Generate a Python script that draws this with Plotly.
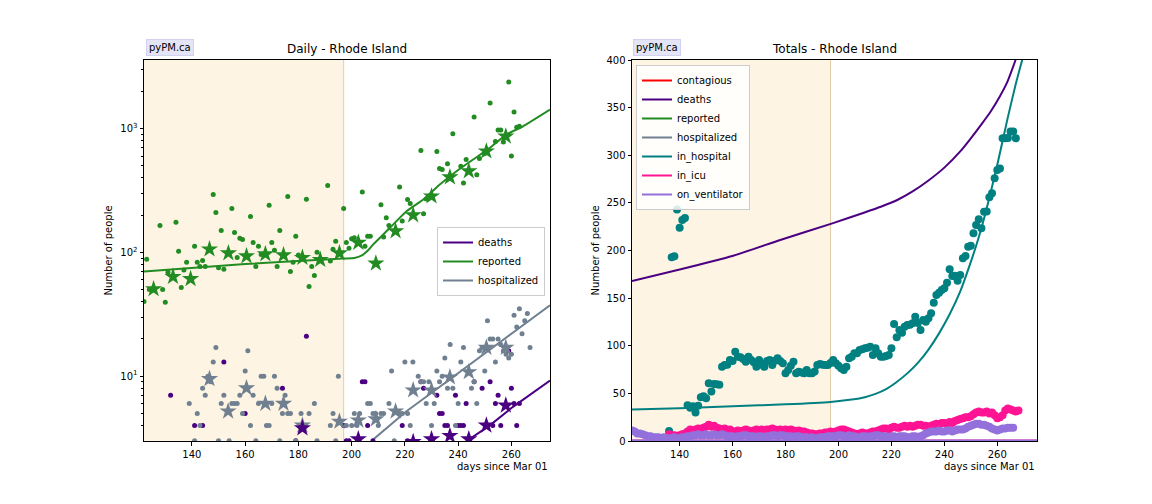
import plotly.graph_objects as go

# ---------------- data: left panel (daily, log) ----------------
rep_days = [122,123,124,128,129,130,131,134,135,136,137,138,141,142,143,144,145,148,149,150,151,152,155,156,157,158,159,
            162,163,164,165,166,169,170,171,172,173,176,177,178,179,180,183,184,185,186,187,191,192,193,194,197,198,199,
            200,201,204,205,206,207,211,212,213,214,218,219,221,222,226,227,228,232,233,234,236,238,241,242,243,246,247,
            248,250,252,254,255,256,257,259,260,261,262,263]
rep_vals = [40,88,50,165,50,39.5,69,175,102,52,72,83,112,83,77,86,77,294,210,75,150,73,226,145,91,130,127,
            195,120,77,112,96,240,120,104,77,150,283,70,83,135,95,268,53,77,65,100,347,85,106,123,226,120,108,
            129,131,308,112,135,135,242,133,190,165,338,179,267,248,664,205,270,652,475,467,519,910,497,364,562,1241,423,
            573,628,1611,785,975,975,780,2377,601,1361,1023,1042]

rep_star_days = [125.6,132.9,139.5,146.6,153.7,160.5,167.6,174.4,181.5,188.2,195.4,202.5,209.1,216.5,223.1,230.0,236.9,244.0,250.6,257.9]
rep_star_vals = [50.6,63.6,61,106,98.7,93.3,96.8,95,90.5,87.2,98.7,120,81.5,148.5,200,284,405,453,656,866]

hosp_days = [139,141,142,143,144,145,146,147,148,149,150,151,152,154,155,156,157,158,159,160,161,162,163,164,165,166,167,
             168,169,170,171,172,173,174,175,176,177,179,181,182,184,186,187,192,193,194,195,198,200,201,202,203,206,207,
             208,209,210,211,212,214,215,216,218,219,220,221,222,223,225,226,227,228,229,230,231,232,233,234,235,236,237,
             238,239,240,241,242,245,246,247,248,249,250,251,252,253,254,255,256,257,258,259,260,261,262,263,264,265,266,267]
hosp_vals = [6,3,5,4,8,7,10,9,13,17,3,6,7,3,6,6,6,7,5,11,16,4,7,3,6,10,10,
             4,4,6,10,8,3,5,7,5,5,3,5,4,5,6,3,4,5,3,10,4,4,5,4,5,6,6,
             5,5,4,5,5,6,11,3,5,5,13,5,4,13,10,9,9,6,9,4,6,11,9,10,14,8,18,
             8,4,6,13,17,8,9,6,16,17,11,28,20,20,13,20,18,16,15,14,15,31,25,35,22,28,32,17]

hosp_star_days = [146.6,153.6,160.5,167.6,174.4,181.5,195.4,202.5,209.1,216.5,223.1,230.0,236.9,244.0,250.6,257.9]
hosp_star_vals = [9.5,5.2,8,6,6,4,4.3,4.4,4.5,5.2,7.7,7.7,9.8,10.8,17,17]

death_days = [132,141,144,152,160,174,179,183,197,198,199,204,205,206,208,219,221,226,227,232,233,234,235,236,239,240,
              241,242,243,246,249,252,253,254,255,256,259,260,261,262,263]
death_vals = [7,4,4,13,5,8,3,21,4,3,3,9,9,4,3,4,3,9,8,7,5,5,4,4,7,4,
              4,4,6,9,8,9,4,6,7,4,16,8,6,4,6]

death_star_days = [181.5,202.5,223.1,230.0,236.9,244.0,250.6,257.9]
death_star_vals = [3.8,3.1,2.95,3.1,3.3,3.1,4.0,5.8]

# model lines (left)
rep_line_days = [122,160,197,201,204,206,208.1,214.4,220.6,226.9,233.1,239.4,245.6,251.9,258.1,264.4,274.5]
rep_line_vals = [70,80.5,89,90,95,103,116,158,215,267,353,452,562,698,894,1043,1421]
hosp_line_days = [207.5,220.6,233.1,245.6,258.1,274.5]
hosp_line_vals = [3.0,5.2,8.2,13,20.7,37.4]
death_line_days = [243.3,251.9,260.6,274.5]
death_line_vals = [3.0,4.0,5.65,9.2]

# ---------------- data: right panel (totals, linear) ----------------
inhosp_days = list(range(136, 268))
inhosp_vals = [10.5,193,194,243,224,232,234,37.5,35,36.5,30,37,46,47,45,60.5,52,59.8,59.5,59,78,79.8,80,85,84,93.8,
               88.5,88,86,83.3,88.5,85,82.6,78,85,80,78,84,85,79.8,84.3,86.8,84,81.5,71,74.5,79,83.3,71,72.8,72,71,
               74.5,71,71,73,79.8,80.8,80,79.8,79.8,82,85,81.5,79,76.3,74.5,78,86.8,88.5,92,92,95.5,96.2,97.3,98,99,
               90.3,97.3,92,88.5,88.5,89.2,90.3,97.3,122.8,109,116.5,113.7,120,121.8,122,123.5,130.5,124,116.5,127,
               125.3,128.8,134,145.2,153.3,155.7,158.5,160.3,166.2,180.2,173.2,173.5,168.3,174.3,191.8,194.2,204,205,
               218,226.8,232.7,223.3,240.8,241,255.8,260,275.8,284.5,286,317.8,317.8,318,325,325,317.8]

icu_days = list(range(136, 269))
icu_vals = [7,6,6,5,6,7,8,10,
            12,11,12,13,12,14,15,
            17,15,16,14,13,12,13,
            11,12,10,10,11,10,11,
            12,11,10,11,12,11,12,
            11,12,12,13,12,11,12,
            11,12,11,12,11,10,11,
            10,10,9,8,8,7,7,
            8,8,9,9,10,9,10,
            11,12,12,11,10,9,8,
            7,8,9,8,8,9,10,
            10,11,12,13,13,12,14,
            15,14,14,15,16,15,16,
            15,16,17,17,16,16,15,
            16,17,18,17,19,19,18,
            20,19,21,22,23,24,25,
            25,26,28,30,31,30,30,
            31,29,30,27,24,25,27,
            32,34,33,32,31,32]

vent_days = list(range(122, 267))
vent_vals = [11,10,8,8,7,6,5,
             5,4,4,4,3,4,3,
             3,3,4,3,3,4,4,
             5,5,6,6,7,6,6,
             7,6,6,7,6,6,7,
             6,5,5,5,4,5,5,
             6,6,5,5,5,4,5,
             5,4,5,5,6,6,5,
             6,6,5,5,5,4,5,
             5,4,4,4,3,4,3,
             3,4,4,4,5,5,5,
             5,6,6,5,5,6,5,
             5,4,4,5,5,4,5,
             5,6,6,5,5,5,4,
             5,5,4,5,5,5,4,
             4,5,5,4,5,6,8,
             9,10,10,10,11,10,10,
             11,11,10,11,12,12,12,
             13,15,16,17,18,18,17,
             17,16,15,13,12,11,12,
             13,13,14,14,14]

death_tot_days = [122,140,159.9,178,197.7,209.6,216,222.2,228,234,240,246,250,254,257.5,261,263.8,266.9]
death_tot_vals = [168,180,194.2,211,228.5,239.7,246,253,262,273.5,287,304,317.8,332.5,346,362,377,400]
inhosp_line_days = [122,140,160,180,197,205,210,214,218,222,226,230,234,238,242,246,250,253,255.6,260,264,267,269.5]
inhosp_line_vals = [33,34.5,36.5,38.5,41,43.5,46,49.5,54.5,62,71,82,96,113,133,157,188,214,240,290,340,375,401]
bottom_line_days = [122, 275]
icu_line_vals = [0.6, 0.6]
vent_line_vals = [0.6, 0.6]

fit_window = [122, 197]
x_range_left = [122, 274.5]
x_range_right = [122, 275]
x_ticks = [140, 160, 180, 200, 220, 240, 260]
y_ticks_left = [10, 100, 1000]
y_ticks_left_text = ["10<sup>1</sup>", "10<sup>2</sup>", "10<sup>3</sup>"]
y_minor_left = [4,5,6,7,8,9,20,30,40,50,60,70,80,90,200,300,400,500,600,700,800,900,2000,3000]
y_ticks_right = [0, 50, 100, 150, 200, 250, 300, 350, 400]

# ---------------- colours ----------------
C_REP = "#228B22"
C_DEATH = "#4B0082"
C_HOSP = "#708090"
C_INH = "#008080"
C_ICU = "#FF1493"
C_VENT = "#9370DB"
C_CONT = "#FF0000"

FONT = "DejaVu Sans"
fig = go.Figure()

# left panel lines
fig.add_trace(go.Scatter(x=death_line_days, y=death_line_vals, mode="lines", name="deaths",
                         line=dict(color=C_DEATH, width=2), xaxis="x", yaxis="y", legend="legend"))
fig.add_trace(go.Scatter(x=rep_line_days, y=rep_line_vals, mode="lines", name="reported",
                         line=dict(color=C_REP, width=2, shape="spline", smoothing=0.5),
                         xaxis="x", yaxis="y", legend="legend"))
fig.add_trace(go.Scatter(x=hosp_line_days, y=hosp_line_vals, mode="lines", name="hospitalized",
                         line=dict(color=C_HOSP, width=2), xaxis="x", yaxis="y", legend="legend"))

def dots(xs, ys, color, size, symbol="circle", xa="x", ya="y"):
    fig.add_trace(go.Scatter(x=xs, y=ys, mode="markers", showlegend=False,
                             marker=dict(color=color, size=size, symbol=symbol, line=dict(width=0)),
                             xaxis=xa, yaxis=ya))

dots(death_days, death_vals, C_DEATH, 5)
dots(rep_days, rep_vals, C_REP, 5)
dots(hosp_days, hosp_vals, C_HOSP, 5)
dots(rep_star_days, rep_star_vals, C_REP, 13, "star")
dots(hosp_star_days, hosp_star_vals, C_HOSP, 13, "star")
dots(death_star_days, death_star_vals, C_DEATH, 13, "star")

# right panel
fig.add_trace(go.Scatter(x=[None], y=[None], mode="lines", name="contagious", line=dict(color=C_CONT, width=2),
                         xaxis="x2", yaxis="y2", legend="legend2"))
fig.add_trace(go.Scatter(x=death_tot_days, y=death_tot_vals, mode="lines", name="deaths",
                         line=dict(color=C_DEATH, width=2, shape="spline", smoothing=0.6),
                         xaxis="x2", yaxis="y2", legend="legend2"))
for nm, col in [("reported", C_REP), ("hospitalized", C_HOSP)]:
    fig.add_trace(go.Scatter(x=[None], y=[None], mode="lines", name=nm, line=dict(color=col, width=2),
                             xaxis="x2", yaxis="y2", legend="legend2"))
fig.add_trace(go.Scatter(x=inhosp_line_days, y=inhosp_line_vals, mode="lines", name="in_hospital",
                         line=dict(color=C_INH, width=2, shape="spline", smoothing=0.6),
                         xaxis="x2", yaxis="y2", legend="legend2"))
fig.add_trace(go.Scatter(x=bottom_line_days, y=icu_line_vals, mode="lines", name="in_icu",
                         line=dict(color=C_ICU, width=2), xaxis="x2", yaxis="y2", legend="legend2"))
fig.add_trace(go.Scatter(x=bottom_line_days, y=vent_line_vals, mode="lines", name="on_ventilator",
                         line=dict(color=C_VENT, width=2), xaxis="x2", yaxis="y2", legend="legend2"))

dots(inhosp_days, inhosp_vals, C_INH, 8, xa="x2", ya="y2")
dots(icu_days, icu_vals, C_ICU, 8, xa="x2", ya="y2")
dots(vent_days, vent_vals, C_VENT, 8, xa="x2", ya="y2")

# ---------------- layout ----------------
W, H = 1152, 504
def px(x):
    return x / W
def py(y):
    return 1 - y / H

L_DOM = [px(144), px(550)]
R_DOM = [px(632), px(1037)]
Y_DOM = [py(441), py(60)]

axis_common = dict(showline=True, mirror=True, linecolor="black", linewidth=1, showgrid=False, zeroline=False,
                   automargin=False, ticks="outside", ticklen=3.5, tickwidth=1, tickcolor="black",
                   tickfont=dict(family=FONT, size=10, color="black"))

shapes = []
for xr, yd in [("x", "y domain"), ("x2", "y2 domain")]:
    shapes.append(dict(type="rect", xref=xr, yref=yd, x0=fit_window[0], x1=fit_window[1], y0=0, y1=1,
                       fillcolor="#FDF4E3", line=dict(width=0), layer="below"))
    shapes.append(dict(type="line", xref=xr, yref=yd, x0=fit_window[1], x1=fit_window[1], y0=0, y1=1,
                       line=dict(color="#E3CCA8", width=1), layer="below"))

annotations = []
for cx, left, title in [((144 + 550) / 2, 146, "Daily - Rhode Island"),
                        ((632 + 1037) / 2, 633, "Totals - Rhode Island")]:
    annotations.append(dict(text=title, x=px(cx), y=py(49.5), xref="paper", yref="paper",
                            xanchor="center", yanchor="middle", showarrow=False,
                            font=dict(family=FONT, size=12, color="black")))
    annotations.append(dict(text="pyPM.ca", x=px(left), y=py(47.5), xref="paper", yref="paper",
                            xanchor="left", yanchor="middle", showarrow=False,
                            bgcolor="#E4E4F7", bordercolor="#D2D2EE", borderwidth=1, borderpad=2,
                            font=dict(family=FONT, size=10, color="black")))
for xl, xr_ in [(108, 550), (595, 1037)]:
    annotations.append(dict(text="Number of people", x=px(xl), y=(Y_DOM[0] + Y_DOM[1]) / 2,
                            xref="paper", yref="paper", xanchor="center", yanchor="middle",
                            textangle=-90, showarrow=False, font=dict(family=FONT, size=10, color="black")))
    annotations.append(dict(text="days since Mar 01", x=px(xr_), y=py(466), xref="paper", yref="paper",
                            xanchor="right", yanchor="middle", showarrow=False,
                            font=dict(family=FONT, size=10, color="black")))

fig.update_layout(
    width=W, height=H, autosize=False,
    margin=dict(l=0, r=0, t=0, b=0, pad=0),
    paper_bgcolor="white", plot_bgcolor="white",
    font=dict(family=FONT, size=10, color="black"),
    xaxis=dict(domain=L_DOM, range=x_range_left, tickvals=x_ticks, anchor="y", **axis_common),
    yaxis=dict(domain=Y_DOM, type="log", range=[0.476, 3.554], tickvals=y_ticks_left, ticktext=y_ticks_left_text,
               anchor="x", minor=dict(tickvals=y_minor_left, ticks="outside", ticklen=2, tickcolor="black"),
               **axis_common),
    xaxis2=dict(domain=R_DOM, range=x_range_right, tickvals=x_ticks, anchor="y2", **axis_common),
    yaxis2=dict(domain=Y_DOM, range=[0, 400], tickvals=y_ticks_right, anchor="x2", **axis_common),
    shapes=shapes, annotations=annotations,
    legend=dict(x=px(545), y=py(227), xanchor="right", yanchor="top",
                bgcolor="rgba(255,255,255,0.85)", bordercolor="#CCCCCC", borderwidth=1,
                font=dict(family=FONT, size=10, color="black"), tracegroupgap=0),
    legend2=dict(x=px(636), y=py(65), xanchor="left", yanchor="top",
                 bgcolor="rgba(255,255,255,0.85)", bordercolor="#CCCCCC", borderwidth=1,
                 font=dict(family=FONT, size=10, color="black"), tracegroupgap=0),
    showlegend=True,
)

fig.write_html("out.html", config={"displayModeBar": False},
               post_script="document.body.style.margin='0';document.body.style.overflow='hidden';")
